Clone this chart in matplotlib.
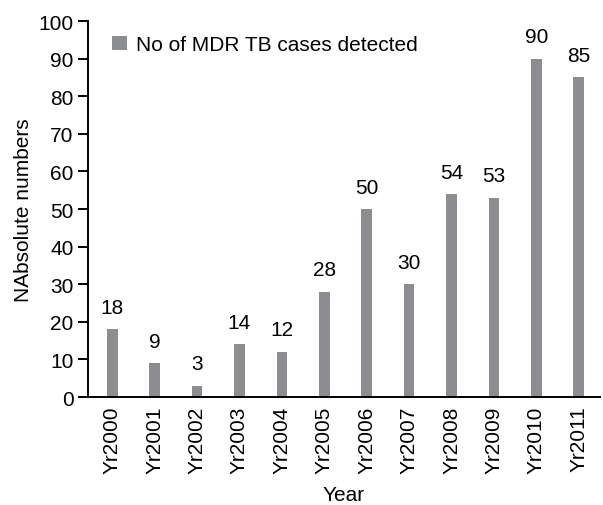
import matplotlib
matplotlib.use('Agg')
import matplotlib.pyplot as plt
import numpy as np

plt.rcParams['font.family'] = ['Liberation Sans', 'DejaVu Sans']

years = ['Yr2000', 'Yr2001', 'Yr2002', 'Yr2003', 'Yr2004', 'Yr2005',
         'Yr2006', 'Yr2007', 'Yr2008', 'Yr2009', 'Yr2010', 'Yr2011']
cases = [18, 9, 3, 14, 12, 28, 50, 30, 54, 53, 90, 85]

fs = 15

fig = plt.figure(figsize=(6.03, 5.06), dpi=100)
ax = fig.add_axes([0.146, 0.2134, 0.849, 0.7431])

x = np.arange(len(years))
ax.bar(x, cases, width=0.25, color='#8c8d91',
       label='No of MDR TB cases detected')
for xi, v in zip(x, cases):
    ax.text(xi, v + 3.3, str(v), ha='center', va='bottom', fontsize=fs)

ax.set_xlim(-0.57, 11.5)
ax.set_ylim(0, 100)
ax.set_yticks(range(0, 101, 10))
ax.set_xticks(x)
ax.set_xticklabels(years, rotation=90, fontsize=fs)
ax.tick_params(axis='y', labelsize=fs, direction='out', length=7, width=1.4)
ax.tick_params(axis='x', length=0, pad=6)

ax.spines['top'].set_visible(False)
ax.spines['right'].set_visible(False)
ax.spines['left'].set_linewidth(1.4)
ax.spines['bottom'].set_linewidth(1.4)

ax.set_xlabel('Year', fontsize=fs, labelpad=9)
ax.set_ylabel('NAbsolute numbers', fontsize=fs, labelpad=4)

ax.legend(loc='upper left', frameon=False, fontsize=fs,
          handlelength=0.72, handleheight=0.72, handletextpad=0.45,
          bbox_to_anchor=(0.01, 1.012))

fig.savefig('out.png', dpi=100)
